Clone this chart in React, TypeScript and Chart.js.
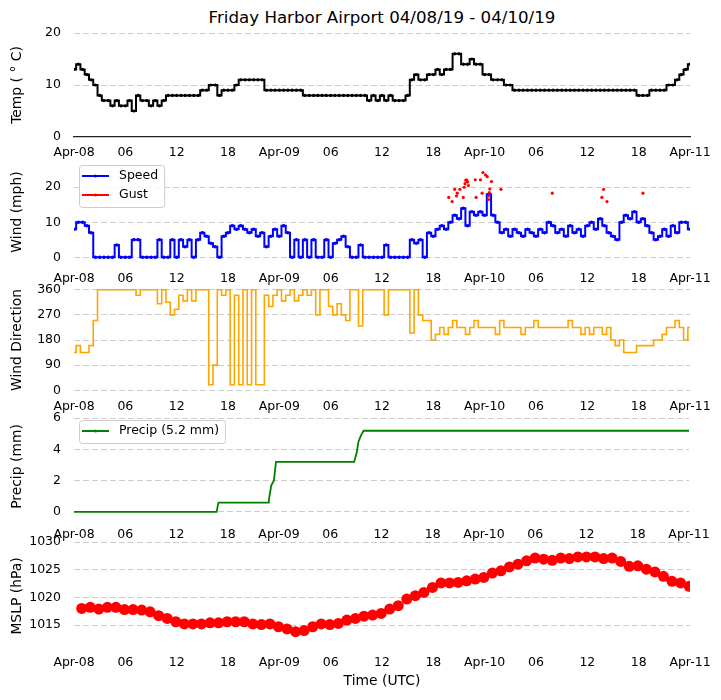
import React, { useEffect, useRef } from "react";
import { Chart, registerables } from "chart.js";

Chart.register(...registerables);

const fontFamily = "'DejaVu Sans', sans-serif";
Chart.defaults.font.family = fontFamily;
Chart.defaults.color = "#000";

// x axis: hours since 2019-04-08 00 UTC, a tick every 6 h
const tickHours = [0, 6, 12, 18, 24, 30, 36, 42, 48, 54, 60, 66, 72];
const tickLabels = ["Apr-08", "06", "12", "18", "Apr-09", "06", "12", "18", "Apr-10", "06", "12", "18", "Apr-11"];

// half-hourly readings
const STEP_H = 0.5;

const tempC = [
  13, 14, 13, 12, 11, 10, 8, 7, 7, 6, 7, 6, 6, 7, 5, 8, 7, 7, 6, 7, 6, 7, 8,
  8, 8, 8, 8, 8, 8, 8, 9, 9, 10, 10, 8, 9, 9, 9, 10, 11, 11, 11, 11, 11, 11,
  9, 9, 9, 9, 9, 9, 9, 9, 9, 8, 8, 8, 8, 8, 8, 8, 8, 8, 8, 8, 8, 8, 8, 8,
  7, 8, 7, 8, 7, 8, 7, 7, 7, 8, 11, 12, 11, 11, 12, 12, 13, 12, 13, 13, 16, 16,
  14, 14, 15, 14, 14, 12, 12, 11, 11, 11, 10, 10,
  9, 9, 9, 9, 9, 9, 9, 9, 9, 9, 9, 9, 9, 9, 9, 9, 9, 9, 9, 9, 9, 9, 9, 9, 9, 9, 9, 9, 9,
  8, 8, 8, 9, 9, 9, 9, 10, 10, 11, 12, 13, 14,
];

const windSpeed = [
  8, 10, 10, 9, 7, 0, 0, 0, 0, 0, 3.5, 0, 0, 0, 5, 5, 0, 0, 0, 0, 5, 0, 0, 5,
  0, 5, 3, 5, 0, 5, 7, 6, 4, 3, 0, 6, 7, 9, 8, 9, 8, 7, 8, 6, 7, 3, 6, 8, 6, 9,
  7, 0, 5, 0, 5, 0, 5, 0, 0, 5, 0, 4, 5, 6, 3, 0, 0, 3.5, 0, 0, 0, 0, 0, 3.5,
  0, 0, 0, 0, 0, 5, 4, 5, 0, 7, 6, 8, 9, 8, 10, 12, 11, 14, 9, 13, 12, 13, 12,
  18, 12, 10, 7, 8, 6, 8, 7, 6, 8, 7, 6, 8, 7, 10, 9, 7, 8, 6, 9, 7, 8, 6, 9,
  10, 8, 11, 9, 7, 6, 5, 10, 12, 11, 13, 10, 11, 9, 7, 5, 6, 8, 6, 9, 7, 10, 10, 8,
];

const windDir = [
  135, 160, 135, 135, 160, 250, 360, 360, 360, 360, 360, 360, 360, 360, 360,
  340, 360, 360, 360, 360, 310, 360, 315, 270, 290, 340, 320, 360, 320, 360,
  360, 360, 20, 90, 360, 340, 360, 20, 340, 20, 360, 20, 360, 20, 20, 340, 300,
  340, 360, 320, 340, 360, 320, 340, 360, 340, 360, 270, 360, 360, 300, 270,
  310, 270, 250, 360, 360, 230, 360, 360, 360, 360, 360, 270, 360, 360, 360,
  360, 360, 205, 360, 270, 250, 250, 180, 200, 225, 200, 225, 250, 225, 225,
  200, 225, 250, 225, 225, 225, 225, 200, 250, 225, 225, 225, 225, 200, 225,
  225, 250, 225, 225, 225, 225, 225, 225, 225, 250, 225, 225, 200, 225, 200,
  225, 225, 200, 225, 180, 160, 180, 135, 135, 135, 160, 160, 160, 160, 180,
  180, 200, 225, 225, 250, 225, 180, 225,
];

// gust reports only
const gustHours = [
  43.8, 44.2, 44.5, 44.7, 44.8, 45.1, 45.5, 45.6, 45.7, 45.8, 45.9, 46.0, 46.1,
  46.9, 47.0, 47.5, 47.7, 47.8, 48.1, 48.3, 48.45, 48.5, 48.55, 48.6, 48.8,
  49.9, 55.9, 61.7, 61.9, 62.3, 66.5,
];
const gustMph = [
  17.1, 15.9, 19.4, 17.5, 18.3, 19.4, 17.1, 20, 21, 22, 22, 21.5, 20.5, 22.1,
  17.1, 22.1, 18.3, 24.2, 23.5, 23, 16.5, 17.5, 18.5, 19.5, 21.6, 19.4, 18.3,
  17.1, 19.4, 15.9, 18.3,
];

// accumulated precipitation
const precipHours = [0, 16.7, 16.9, 22.8, 22.85, 23.1, 23.4, 23.65, 32.8, 33.1, 33.3, 33.6, 33.9, 72];
const precipMm = [0, 0, 0.6, 0.6, 0.9, 1.7, 2.0, 3.2, 3.2, 3.8, 4.5, 4.9, 5.2, 5.2];

// hourly METAR sea-level pressure
const mslpHPa = [
  1018.0, 1018.2, 1017.9, 1018.2, 1018.2, 1017.8, 1017.8, 1017.7, 1017.4,
  1016.7, 1016.2, 1015.6, 1015.2, 1015.2, 1015.2, 1015.4, 1015.4, 1015.6,
  1015.6, 1015.6, 1015.2, 1015.1, 1015.2, 1014.7, 1014.3, 1013.8, 1014.0,
  1014.7, 1015.2, 1015.1, 1015.3, 1015.9, 1016.2, 1016.6, 1016.8, 1017.1,
  1017.9, 1018.5, 1019.7, 1020.3, 1020.9, 1021.8, 1022.6, 1022.6, 1022.7,
  1023.0, 1023.3, 1023.6, 1024.4, 1024.8, 1025.5, 1026.0, 1026.6, 1027.1,
  1026.9, 1026.7, 1027.1, 1027.0, 1027.3, 1027.3, 1027.3, 1027.0, 1027.1,
  1026.5, 1025.6, 1025.7, 1025.1, 1024.6, 1023.8, 1022.9, 1022.6, 1022.0,
];
const mslpHours = mslpHPa.map((_, i) => i + 0.9);

const halfHourly = (vals: number[]) => vals.map((y, i) => ({ x: i * STEP_H, y }));
const pairs = (xs: number[], ys: number[]) => xs.map((x, i) => ({ x, y: ys[i] }));

interface LegendItem {
  label: string;
  color: string;
}

// matplotlib-style legend box in the upper left of the plot
const insideLegend = {
  id: "insideLegend",
  afterDraw(chart: Chart, _args: unknown, opts: { items?: LegendItem[] }) {
    const items = opts.items || [];
    if (!items.length) return;
    const { ctx, chartArea } = chart;
    const left = chartArea.left + 5;
    const top = chartArea.top + 3;
    ctx.save();
    ctx.font = `12.5px ${fontFamily}`;
    const textW = Math.max(...items.map((it) => ctx.measureText(it.label).width));
    const w = 40 + textW + 6;
    const h = 23 + (items.length - 1) * 19;
    ctx.beginPath();
    ctx.roundRect(left + 0.5, top + 0.5, w, h, 3);
    ctx.fillStyle = "rgba(255,255,255,0.8)";
    ctx.fill();
    ctx.strokeStyle = "#cccccc";
    ctx.lineWidth = 1;
    ctx.stroke();
    items.forEach((it, i) => {
      const y = top + 11 + i * 19;
      ctx.strokeStyle = it.color;
      ctx.lineWidth = 2;
      ctx.beginPath();
      ctx.moveTo(left + 3, y);
      ctx.lineTo(left + 30, y);
      ctx.stroke();
      ctx.fillStyle = it.color;
      ctx.beginPath();
      ctx.arc(left + 16.5, y, 1.5, 0, Math.PI * 2);
      ctx.fill();
      ctx.fillStyle = "#000";
      ctx.textBaseline = "middle";
      ctx.fillText(it.label, left + 40, y);
    });
    ctx.restore();
  },
};

interface PanelProps {
  datasets: any[];
  yMin: number;
  yMax: number;
  yTicks: number[];
  yTitle: string;
  areaTop: number;
  areaBottom: number;
  tickPad: number;
  legendItems?: LegendItem[];
  xTitle?: string;
  zeroLine?: boolean;
}

const W = 721;
const H = 700;

const Panel: React.FC<PanelProps> = ({
  datasets,
  yMin,
  yMax,
  yTicks,
  yTitle,
  areaTop,
  areaBottom,
  tickPad,
  legendItems = [],
  xTitle,
  zeroLine = false,
}) => {
  const canvasRef = useRef<HTMLCanvasElement>(null);

  useEffect(() => {
    if (!canvasRef.current) return;
    const xHeight = xTitle ? 45 : 30;
    const chart = new Chart(canvasRef.current, {
      type: "line",
      data: { datasets },
      options: {
        responsive: false,
        animation: false,
        events: [],
        layout: {
          padding: { top: areaTop, left: 0, right: 31, bottom: H - areaBottom - xHeight },
        },
        scales: {
          x: {
            type: "linear",
            min: 0,
            max: 72,
            afterBuildTicks: (s: any) => {
              s.ticks = tickHours.map((v) => ({ value: v }));
            },
            afterFit: (s: any) => {
              s.height = xHeight;
            },
            grid: { display: false, drawTicks: false },
            border: { display: zeroLine, color: "#222", width: 1.2 },
            ticks: {
              autoSkip: false,
              maxRotation: 0,
              minRotation: 0,
              padding: tickPad,
              font: { size: 12.5 },
              color: "#000",
              callback: (v: any) => tickLabels[tickHours.indexOf(Number(v))],
            },
            title: {
              display: !!xTitle,
              text: xTitle || "",
              font: { size: 13.9 },
              color: "#000",
              padding: { top: 0, bottom: 5 },
            },
          },
          y: {
            type: "linear",
            min: yMin,
            max: yMax,
            afterBuildTicks: (s: any) => {
              s.ticks = yTicks.map((v) => ({ value: v }));
            },
            afterFit: (s: any) => {
              s.width = 74;
            },
            grid: {
              drawTicks: false,
              lineWidth: 1,
              color: (c: any) =>
                zeroLine && c.tick && c.tick.value === 0 ? "rgba(0,0,0,0)" : "#cccccc",
            },
            border: { display: false, dash: [6, 3] },
            ticks: {
              padding: 13,
              font: { size: 12.5 },
              color: "#000",
              callback: (v: any) => String(v),
            },
            title: {
              display: true,
              text: yTitle,
              font: { size: 13.9 },
              color: "#000",
              padding: { top: 9, bottom: 0 },
            },
          },
        },
        plugins: {
          legend: { display: false },
          tooltip: { enabled: false },
          insideLegend: { items: legendItems },
        } as any,
      },
      plugins: [insideLegend as any],
    });
    return () => chart.destroy();
  }, []);

  return (
    <canvas
      ref={canvasRef}
      width={W}
      height={H}
      style={{ position: "absolute", left: 0, top: 0, width: W, height: H }}
    />
  );
};

const App: React.FC = () => {
  return (
    <div style={{ position: "absolute", left: 0, top: 0, width: W, height: H, background: "#fff" }}>
      <div
        style={{
          position: "absolute",
          left: 74,
          width: 616,
          top: 8,
          textAlign: "center",
          fontFamily,
          fontSize: 16.67,
          lineHeight: "20px",
          color: "#000",
        }}
      >
        Friday Harbor Airport 04/08/19 - 04/10/19
      </div>
      <Panel
        yTitle="Temp ( ° C)"
        yMin={0}
        yMax={20}
        yTicks={[0, 10, 20]}
        areaTop={33}
        areaBottom={137}
        tickPad={8}
        zeroLine
        datasets={[
          {
            data: halfHourly(tempC),
            borderColor: "#000",
            backgroundColor: "#000",
            borderWidth: 2,
            pointRadius: 0.6,
            stepped: "middle",
          },
        ]}
      />
      <Panel
        yTitle="Wind (mph)"
        yMin={-1.34}
        yMax={27.2}
        yTicks={[0, 10, 20]}
        areaTop={162}
        areaBottom={262}
        tickPad={8.8}
        legendItems={[
          { label: "Speed", color: "#0000ff" },
          { label: "Gust", color: "#ff0000" },
        ]}
        datasets={[
          {
            data: pairs(gustHours, gustMph),
            showLine: false,
            pointRadius: 1.6,
            borderWidth: 0,
            backgroundColor: "#ff0000",
            borderColor: "#ff0000",
            order: 0,
          },
          {
            data: halfHourly(windSpeed),
            borderColor: "#0000ff",
            backgroundColor: "#0000ff",
            borderWidth: 2,
            pointRadius: 0.8,
            stepped: "middle",
            order: 1,
          },
        ]}
      />
      <Panel
        yTitle="Wind Direction"
        yMin={-18}
        yMax={378}
        yTicks={[0, 90, 180, 270, 360]}
        areaTop={284.7}
        areaBottom={395.3}
        tickPad={3.9}
        datasets={[
          {
            data: halfHourly(windDir),
            borderColor: "#ffa500",
            backgroundColor: "#ffa500",
            borderWidth: 1.6,
            pointRadius: 0,
            stepped: "middle",
          },
        ]}
      />
      <Panel
        yTitle="Precip (mm)"
        yMin={-0.26}
        yMax={6.08}
        yTicks={[0, 2, 4, 6]}
        areaTop={417}
        areaBottom={516}
        tickPad={11.4}
        legendItems={[{ label: "Precip (5.2 mm)", color: "#008000" }]}
        datasets={[
          {
            data: pairs(precipHours, precipMm),
            borderColor: "#008000",
            backgroundColor: "#008000",
            borderWidth: 1.8,
            pointRadius: 0,
          },
        ]}
      />
      <Panel
        yTitle="MSLP (hPa)"
        yMin={1010.5}
        yMax={1030}
        yTicks={[1015, 1020, 1025, 1030]}
        areaTop={542}
        areaBottom={650}
        tickPad={5.2}
        xTitle="Time (UTC)"
        datasets={[
          {
            data: pairs(mslpHours, mslpHPa),
            showLine: false,
            pointRadius: 5.5,
            borderWidth: 0,
            backgroundColor: "#ff0000",
            borderColor: "#ff0000",
          },
        ]}
      />
    </div>
  );
};

export default App;
